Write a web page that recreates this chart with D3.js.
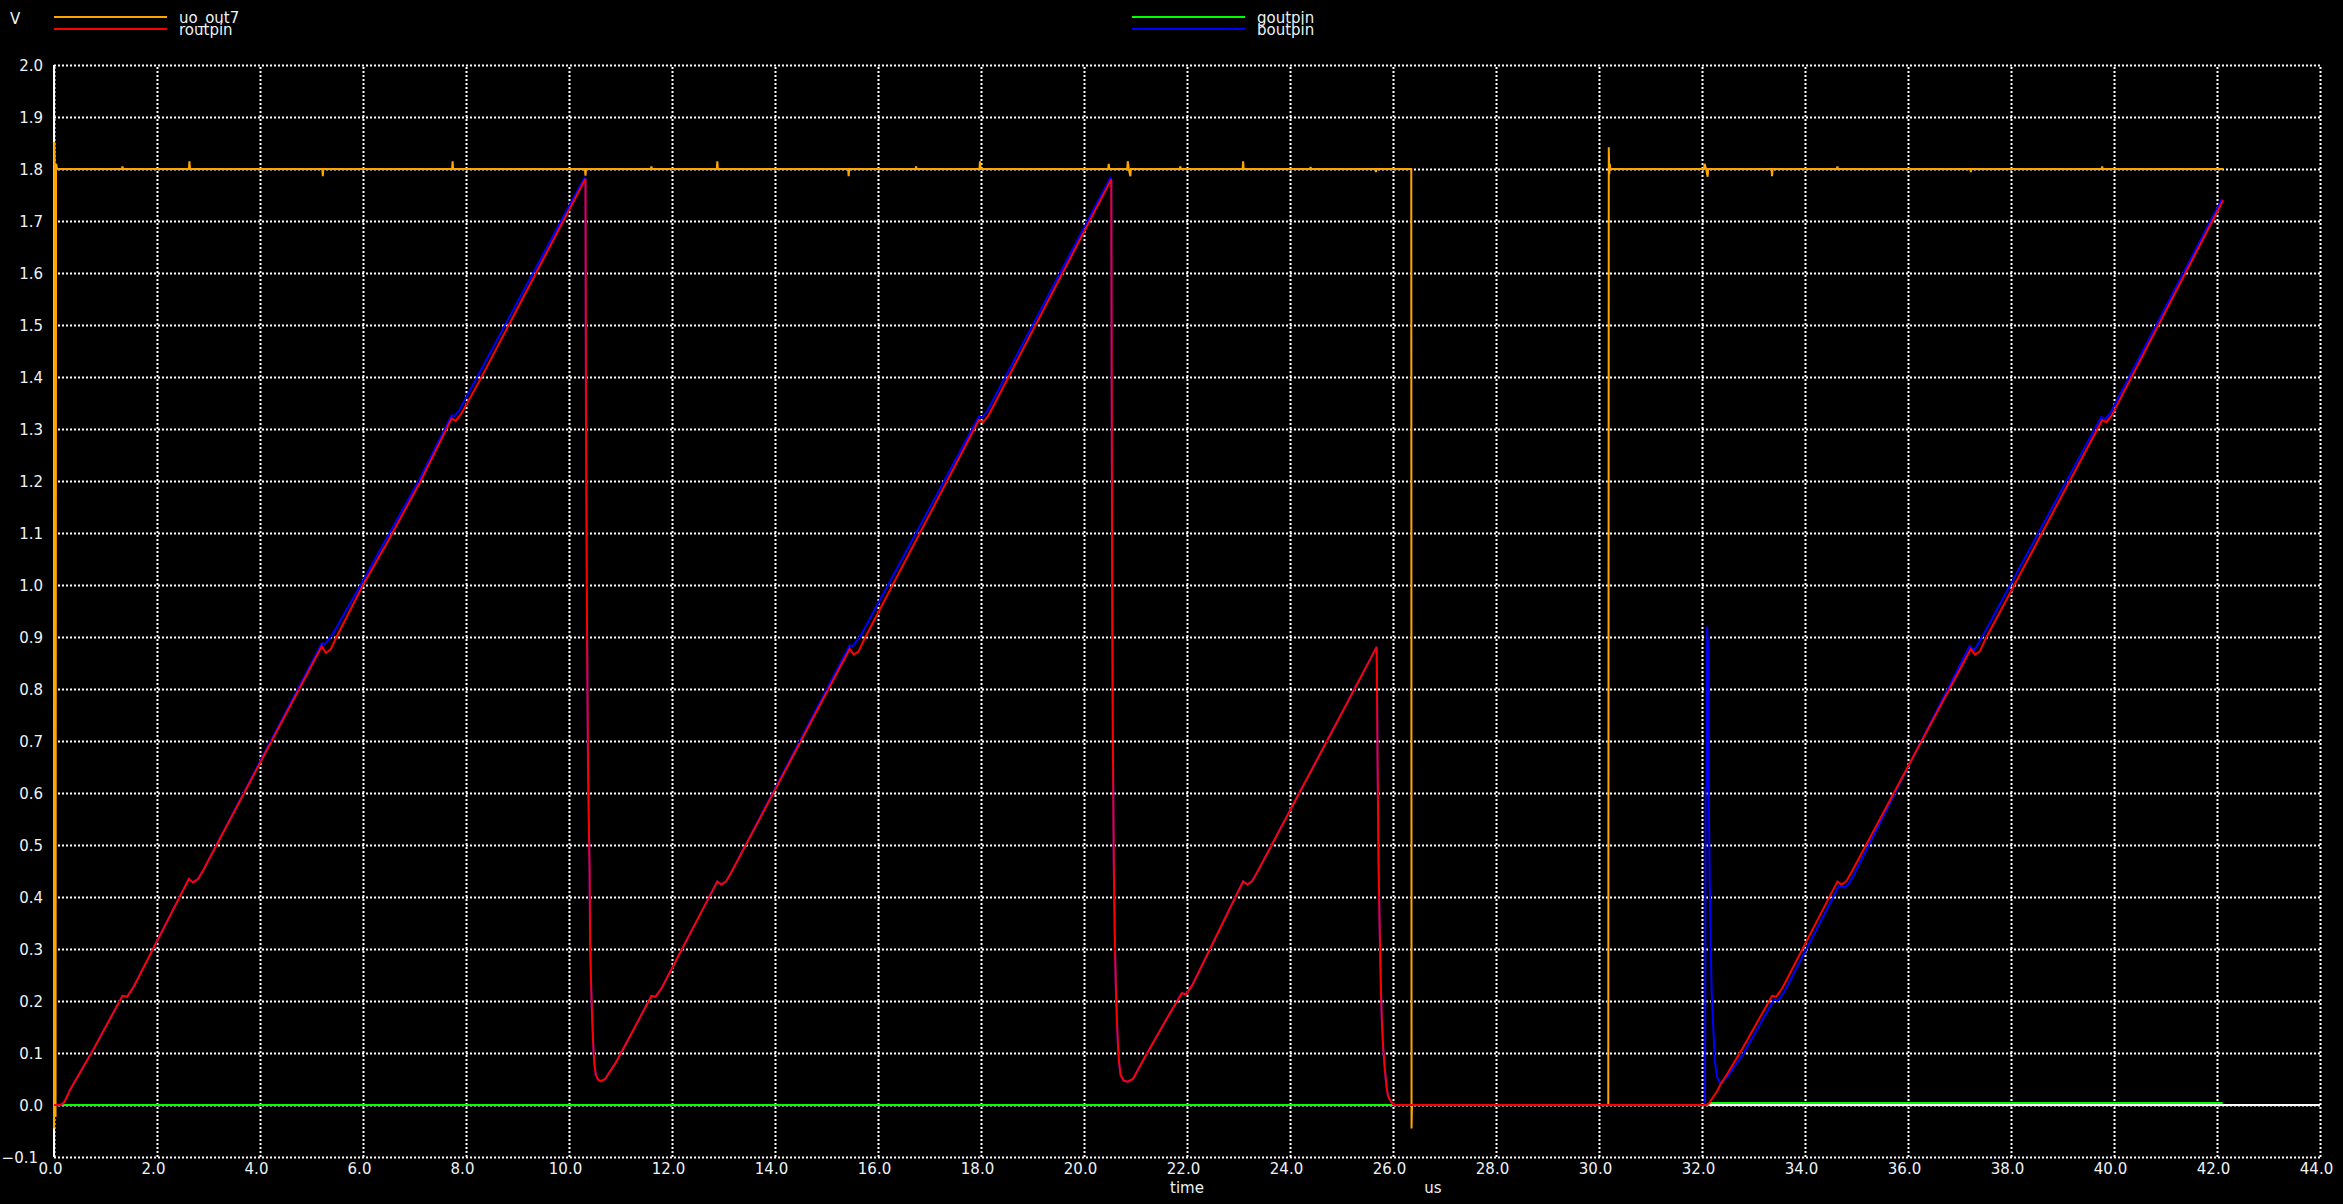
<!DOCTYPE html>
<html>
<head>
<meta charset="utf-8">
<script src="https://cdn.jsdelivr.net/npm/d3@7"></script>
<style>
  html, body { margin: 0; padding: 0; background: #000; }
  svg { display: block; }
</style>
</head>
<body>
<svg id="chart"></svg>
<script>
// tick values (us / V)
var xTicks = [0, 2, 4, 6, 8, 10, 12, 14, 16, 18, 20, 22, 24, 26, 28, 30, 32, 34, 36, 38, 40, 42, 44];
var yTicks = [-0.1, 0.0, 0.1, 0.2, 0.3, 0.4, 0.5, 0.6, 0.7, 0.8, 0.9, 1.0,
              1.1, 1.2, 1.3, 1.4, 1.5, 1.6, 1.7, 1.8, 1.9, 2.0];

var seriesNames = ["uo_out7", "routpin", "goutpin", "boutpin"];

// [time us, volts]
var uo_out7 = [
  [0, -0.045], [0.005, 1.852], [0.015, 1.80], [0.03, -0.023], [0.04, 1.81], [0.06, 1.80],
  [1.32, 1.80], [1.33, 1.805], [1.34, 1.80],
  [2.62, 1.80], [2.63, 1.815], [2.64, 1.80],
  [5.21, 1.80], [5.22, 1.786], [5.23, 1.80],
  [7.73, 1.80], [7.74, 1.815], [7.75, 1.80],
  [10.31, 1.80], [10.32, 1.787], [10.33, 1.80],
  [11.59, 1.80], [11.6, 1.805], [11.61, 1.80],
  [12.87, 1.80], [12.88, 1.815], [12.89, 1.80],
  [15.42, 1.80], [15.43, 1.786], [15.44, 1.80],
  [16.73, 1.80], [16.74, 1.805], [16.75, 1.80],
  [17.97, 1.80], [17.98, 1.815], [17.99, 1.80],
  [20.47, 1.80], [20.48, 1.81], [20.49, 1.80],
  [20.84, 1.80], [20.85, 1.815], [20.87, 1.80], [20.9, 1.786], [20.91, 1.80],
  [21.86, 1.80], [21.87, 1.805], [21.88, 1.80],
  [23.08, 1.80], [23.09, 1.815], [23.10, 1.80],
  [24.39, 1.80], [24.4, 1.804], [24.41, 1.80],
  [25.66, 1.80], [25.67, 1.794], [25.68, 1.80],
  [26.355, 1.80], [26.36, -0.045], [26.365, -0.015], [26.37, 0.0],
  [30.18, 0.0], [30.19, 1.842], [30.2, 1.79], [30.21, 1.81], [30.22, 1.80],
  [32.04, 1.80], [32.05, 1.81], [32.08, 1.80], [32.11, 1.785], [32.12, 1.80],
  [33.35, 1.80], [33.36, 1.786], [33.37, 1.80],
  [34.62, 1.80], [34.63, 1.805], [34.64, 1.80],
  [37.21, 1.80], [37.22, 1.794], [37.23, 1.80],
  [39.76, 1.80], [39.77, 1.805], [39.78, 1.80],
  [42.12, 1.80]
];

var routpin = [
  [0, 0], [0.12, 0], [0.2, 0.005], [0.31, 0.029], [0.76, 0.106], [1.33, 0.21], [1.42, 0.208],
  [1.55, 0.228], [2.62, 0.435], [2.7, 0.428], [2.8, 0.435], [2.9, 0.452], [5.2, 0.882],
  [5.28, 0.869], [5.37, 0.876], [5.49, 0.901], [6.0, 1.0], [6.46, 1.08], [7.1, 1.196],
  [7.72, 1.32], [7.8, 1.316], [7.9, 1.328], [8.27, 1.394], [9.83, 1.689], [10.32, 1.781],
  [10.33, 1.31], [10.35, 0.92], [10.37, 0.64], [10.40, 0.45], [10.41, 0.31], [10.43, 0.23],
  [10.45, 0.165], [10.47, 0.117], [10.49, 0.083], [10.52, 0.058], [10.57, 0.048], [10.62, 0.046],
  [10.7, 0.05], [10.9, 0.08], [11.2, 0.135], [11.6, 0.21], [11.68, 0.208], [11.8, 0.225],
  [12.88, 0.43], [12.96, 0.424], [13.05, 0.43], [13.15, 0.447], [15.45, 0.877], [15.53, 0.866],
  [15.62, 0.872], [15.74, 0.897], [17.96, 1.317], [18.04, 1.313], [18.14, 1.325], [20.53, 1.78],
  [20.545, 1.04], [20.56, 0.70], [20.58, 0.45], [20.6, 0.31], [20.62, 0.22], [20.64, 0.16],
  [20.66, 0.115], [20.68, 0.083], [20.71, 0.058], [20.77, 0.047], [20.85, 0.045],
  [20.95, 0.05], [21.2, 0.095], [21.6, 0.165], [21.9, 0.215], [21.98, 0.213], [22.1, 0.23],
  [23.09, 0.43], [23.17, 0.424], [23.26, 0.43], [23.36, 0.447], [24.97, 0.747], [25.683, 0.881],
  [25.70, 0.665], [25.72, 0.461], [25.745, 0.321], [25.765, 0.224], [25.785, 0.157],
  [25.81, 0.109], [25.835, 0.077], [25.855, 0.054], [25.875, 0.035], [25.9, 0.019],
  [25.94, 0.0096], [26.0, 0.002], [26.05, 0],
  [32.09, 0], [32.15, 0.005], [32.22, 0.016], [32.29, 0.026], [32.35, 0.038], [32.48, 0.058],
  [32.77, 0.106], [33.36, 0.21], [33.44, 0.208], [33.56, 0.225], [34.63, 0.43], [34.71, 0.424],
  [34.8, 0.43], [34.9, 0.447], [37.22, 0.877], [37.3, 0.866], [37.39, 0.872], [37.51, 0.897],
  [39.77, 1.317], [39.85, 1.313], [39.95, 1.325], [42.12, 1.74]
];

var goutpin = [
  [0, 0], [32.12, 0], [32.16, 0.004], [42.11, 0.004]
];

var boutpin = [
  [0, 0], [0.12, 0], [0.2, 0.005], [0.31, 0.029], [0.76, 0.106], [1.33, 0.21], [1.42, 0.208],
  [1.55, 0.228], [2.62, 0.435], [2.7, 0.428], [2.8, 0.435], [2.9, 0.452], [5.2, 0.888],
  [5.26, 0.886], [5.42, 0.907], [6.0, 1.008], [7.1, 1.204], [7.72, 1.326], [7.78, 1.325],
  [7.88, 1.338], [9.83, 1.697], [10.3, 1.783], [10.32, 1.781],
  [10.33, 1.31], [10.35, 0.92], [10.37, 0.64], [10.40, 0.45], [10.41, 0.31], [10.43, 0.23],
  [10.45, 0.165], [10.47, 0.117], [10.49, 0.083], [10.52, 0.058], [10.57, 0.048], [10.62, 0.046],
  [10.7, 0.05], [10.9, 0.08], [11.2, 0.135], [11.6, 0.21], [11.68, 0.208], [11.8, 0.225],
  [12.88, 0.43], [12.96, 0.424], [13.05, 0.43], [13.15, 0.447], [15.45, 0.884], [15.51, 0.882],
  [15.67, 0.904], [17.96, 1.324], [18.02, 1.322], [18.12, 1.334], [20.51, 1.783], [20.53, 1.78],
  [20.545, 1.04], [20.56, 0.70], [20.58, 0.45], [20.6, 0.31], [20.62, 0.22], [20.64, 0.16],
  [20.66, 0.115], [20.68, 0.083], [20.71, 0.058], [20.77, 0.047], [20.85, 0.045],
  [20.95, 0.05], [21.2, 0.095], [21.6, 0.165], [21.9, 0.215], [21.98, 0.213], [22.1, 0.23],
  [23.09, 0.43], [23.17, 0.424], [23.26, 0.43], [23.36, 0.447], [24.97, 0.747], [25.683, 0.881],
  [25.70, 0.665], [25.72, 0.461], [25.745, 0.321], [25.765, 0.224], [25.785, 0.157],
  [25.81, 0.109], [25.835, 0.077], [25.855, 0.054], [25.875, 0.035], [25.9, 0.019],
  [25.94, 0.0096], [26.0, 0.002], [26.05, 0],
  [32.06, 0], [32.07, 0.61], [32.09, 0.61], [32.10, 0.92], [32.12, 0.875], [32.13, 0.61],
  [32.15, 0.43], [32.17, 0.30], [32.19, 0.21], [32.22, 0.146], [32.25, 0.085], [32.29, 0.055],
  [32.35, 0.042], [32.5, 0.055], [32.8, 0.098], [33.4, 0.203], [33.48, 0.201], [33.6, 0.218],
  [34.67, 0.423], [34.75, 0.418], [34.84, 0.424], [34.94, 0.441], [36.0, 0.65], [37.2, 0.883],
  [37.28, 0.874], [37.45, 0.902], [39.75, 1.323], [39.83, 1.319], [39.93, 1.331], [42.1, 1.743]
];

var colors = { uo_out7: "#ffa500", routpin: "#ff0000", goutpin: "#00ff00", boutpin: "#0000ff" };

var w = 2343;
var h = 1204;
var margin = { top: 65, right: 23, bottom: 47, left: 54 };
var textColor = "#eef2f4";
var font = "DejaVu Sans, sans-serif";

var svg = d3.select("#chart")
  .attr("width", w)
  .attr("height", h)
  .style("background", "#000");

var x = d3.scaleLinear().domain([0, 44]).range([margin.left, w - margin.right]);
var y = d3.scaleLinear().domain([-0.1, 2.0]).range([h - margin.bottom, margin.top]);

var plotH = y(-0.1) - y(2.0);
var plotW = x(44) - x(0);

// x axis with dotted grid
var gx = svg.append("g")
  .attr("transform", "translate(0," + y(-0.1) + ")")
  .call(d3.axisBottom(x).tickValues(xTicks).tickFormat(d3.format(".1f"))
    .tickSize(-plotH).tickPadding(6));
gx.select(".domain").remove();
gx.selectAll("line")
  .attr("stroke", "#fff")
  .attr("stroke-width", 2)
  .attr("stroke-dasharray", "2,2");
gx.selectAll("text")
  .attr("x", -4)
  .attr("fill", textColor)
  .attr("font-family", font)
  .attr("font-size", 15);

// y axis with dotted grid
var gy = svg.append("g")
  .attr("transform", "translate(" + x(0) + ",0)")
  .call(d3.axisLeft(y).tickValues(yTicks).tickFormat(d3.format(".1f"))
    .tickSize(-plotW).tickPadding(11));
gy.select(".domain").remove();
gy.selectAll("line")
  .attr("stroke", "#fff")
  .attr("stroke-width", 2)
  .attr("stroke-dasharray", "2,2");
gy.selectAll("text")
  .attr("dy", "0.38em")
  .attr("fill", textColor)
  .attr("font-family", font)
  .attr("font-size", 15)
  .attr("x", function(d) { return d < 0 ? -16 : -11; });

// solid left axis and zero line
svg.append("line")
  .attr("x1", x(0)).attr("x2", x(0))
  .attr("y1", y(2.0)).attr("y2", y(-0.1))
  .attr("stroke", "#fff").attr("stroke-width", 2);
svg.append("line")
  .attr("x1", x(0)).attr("x2", x(44))
  .attr("y1", y(0)).attr("y2", y(0))
  .attr("stroke", "#fff").attr("stroke-width", 2);

var line = d3.line()
  .x(function(d) { return x(d[0]); })
  .y(function(d) { return y(d[1]); });

var drawOrder = [["uo_out7", uo_out7], ["goutpin", goutpin], ["boutpin", boutpin], ["routpin", routpin]];
drawOrder.forEach(function(s) {
  svg.append("path")
    .datum(s[1])
    .attr("fill", "none")
    .attr("stroke", colors[s[0]])
    .attr("stroke-width", 2)
    .attr("stroke-linejoin", "miter")
    .attr("d", line);
});

// legend
var legendPos = [
  { name: "uo_out7", x: 54, y: 17 },
  { name: "routpin", x: 54, y: 29 },
  { name: "goutpin", x: 1132, y: 17 },
  { name: "boutpin", x: 1132, y: 29 }
];
legendPos.forEach(function(l) {
  svg.append("line")
    .attr("x1", l.x).attr("x2", l.x + 113)
    .attr("y1", l.y).attr("y2", l.y)
    .attr("stroke", colors[l.name]).attr("stroke-width", 2);
  svg.append("text")
    .attr("x", l.x + 125)
    .attr("y", l.y + 6)
    .attr("fill", textColor)
    .attr("font-family", font)
    .attr("font-size", 15)
    .text(l.name);
});

// axis titles
svg.append("text").attr("x", 10).attr("y", 24)
  .attr("fill", textColor).attr("font-family", font).attr("font-size", 15).text("V");
svg.append("text").attr("x", (x(0) + x(44)) / 2).attr("y", 1193)
  .attr("text-anchor", "middle")
  .attr("fill", textColor).attr("font-family", font).attr("font-size", 15).text("time");
svg.append("text").attr("x", 1433).attr("y", 1193)
  .attr("text-anchor", "middle")
  .attr("fill", textColor).attr("font-family", font).attr("font-size", 15).text("us");
</script>
</body>
</html>
